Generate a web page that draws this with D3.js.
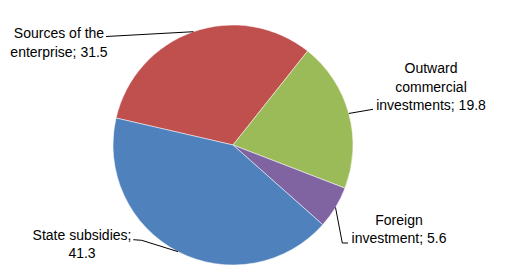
<!DOCTYPE html>
<html>
<head>
<meta charset="utf-8">
<script src="https://cdn.jsdelivr.net/npm/d3@7"></script>
<style>
  body { margin: 0; background: #fff; }
  svg { display: block; font-family: "Liberation Sans", Arial, sans-serif; }
</style>
</head>
<body>
<div id="chart"></div>
<script>
// Data
const categories = ["Sources of the enterprise", "Outward commercial investments", "Foreign investment", "State subsidies"];
const values = [31.5, 19.8, 5.6, 41.3];
const labelLines = [
    ["Sources of the", "enterprise; 31.5"],
    ["Outward", "commercial", "investments; 19.8"],
    ["Foreign", "investment; 5.6"],
    ["State subsidies;", "41.3"]
];
const colors = ["#C0504D", "#9BBB59", "#8064A2", "#4F81BD"];

function init() {
    const width = 508;
    const height = 274;
    const cx = 233, cy = 145, radius = 120;

    // label placement: text centre, first baseline, leader bend points
    const labelLayout = [
        { x: 59, y: 38, lead: [[106, 36.5]] },
        { x: 431, y: 73, lead: [[373, 109.3]] },
        { x: 399, y: 224.5, lead: [[342.3, 243], [348, 243]] },
        { x: 82, y: 239.7, lead: [[141.7, 240.3], [133.3, 239.7]] }
    ];
    const lineHeight = 18.5;

    const svg = d3.select("#chart")
        .append("svg")
        .attr("width", width)
        .attr("height", height);

    const start = -77 * Math.PI / 180;
    const pie = d3.pie().sort(null).startAngle(start).endAngle(start + 2 * Math.PI);
    const arc = d3.arc().innerRadius(0).outerRadius(radius);
    const arcs = pie(values);

    const g = svg.append("g").attr("transform", `translate(${cx},${cy})`);

    g.selectAll("path")
        .data(arcs)
        .enter()
        .append("path")
        .attr("d", arc)
        .attr("fill", (d, i) => colors[i])
        .attr("stroke", "#fff")
        .attr("stroke-width", 0.5);

    // leader lines
    arcs.forEach((d, i) => {
        const a = (d.startAngle + d.endAngle) / 2;
        const p0 = [cx + radius * Math.sin(a), cy - radius * Math.cos(a)];
        const pts = [p0].concat(labelLayout[i].lead);
        svg.append("path")
            .attr("d", d3.line()(pts))
            .attr("fill", "none")
            .attr("stroke", "#000")
            .attr("stroke-width", 1);
    });

    // labels
    labelLines.forEach((lines, i) => {
        const t = svg.append("text")
            .attr("text-anchor", "middle")
            .attr("font-size", 14)
            .attr("fill", "#000");
        lines.forEach((s, j) => {
            t.append("tspan")
                .attr("x", labelLayout[i].x)
                .attr("y", labelLayout[i].y + j * lineHeight)
                .text(s);
        });
    });
}

window.onload = init;
</script>
</body>
</html>
